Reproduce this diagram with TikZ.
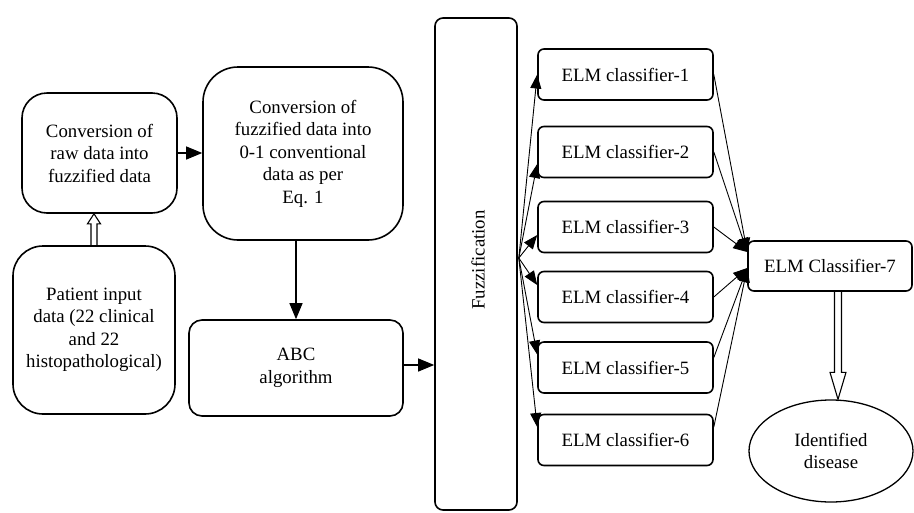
\documentclass[tikz,border=0pt]{standalone}
\usepackage{fontspec}
\setmainfont{Liberation Serif}
\usetikzlibrary{arrows.meta,calc,shapes.geometric}
\begin{document}
\begin{tikzpicture}[x=1pt,y=-1pt,
 box/.style={draw,line width=1.6pt,align=center,inner sep=0pt,font=\fontsize{18.8}{22.5}\selectfont},
 elm/.style={box,minimum width=175pt,minimum height=51pt,rounded corners=6pt},
 arr/.style={line width=1.1pt,-{Triangle[length=16pt,width=13pt]}},
 farr/.style={line width=0.9pt,-{Triangle[length=14pt,width=11pt]}},
 hollow/.style={line width=1.1pt,line join=miter}]
\useasboundingbox (0,0) rectangle (914,512);

\node[box,minimum width=155pt,minimum height=120pt,rounded corners=25pt] (a) at (99.5,153) {Conversion of\\raw data into\\fuzzified data};
\node[box,minimum width=200pt,minimum height=173pt,rounded corners=35pt] (b) at (303,153.5) {Conversion of\\fuzzified data into\\0-1 conventional\\data as per\\Eq. 1};
\node[box,minimum width=162pt,minimum height=168pt,rounded corners=30pt] (c) at (94,330) {Patient input\\data (22 clinical\\and 22\\histopathological)};
\node[box,minimum width=214pt,minimum height=96pt,rounded corners=13pt] (d) at (296,368) {ABC\\algorithm};
\node[box,minimum width=82pt,minimum height=492pt,rounded corners=8pt] (fz) at (476,264) {};
\node[rotate=90,inner sep=0pt,font=\fontsize{18.8}{22.5}\selectfont] (fzt) at (478,260) {Fuzzification};

\node[elm] (e1) at (625.5,74.5) {ELM classifier-1};
\node[elm] (e2) at (625.5,152) {ELM classifier-2};
\node[elm] (e3) at (625.5,227) {ELM classifier-3};
\node[elm] (e4) at (625.5,297) {ELM classifier-4};
\node[elm] (e5) at (625.5,367.5) {ELM classifier-5};
\node[elm] (e6) at (625.5,440) {ELM classifier-6};
\node[box,minimum width=164pt,minimum height=50pt,rounded corners=6pt] (e7) at (830,266) {ELM Classifier-7};
\node[box,line width=1.3pt,ellipse,minimum width=164pt,minimum height=102pt] (dis) at (831,451) {Identified\\disease};

% connectors
\draw[arr] (a.east) -- (a.east -| b.west);
\draw[arr] (d.north |- b.south) -- (d.north);
\draw[arr] ($(d.east)+(0,-3)$) -- ($(d.east -| fz.west)+(0,-3)$);

\coordinate (fo) at ($(fz.east)+(1,-6)$);
\draw[farr] (fo) -- (e1.west);
\draw[farr] (fo) -- ($(e2.west)+(0,12)$);
\draw[farr] (fo) -- ($(e3.west)+(0,8)$);
\draw[farr] (fo) -- ($(e4.west)+(0,-12)$);
\draw[farr] (fo) -- ($(e5.west)+(0,-13)$);
\draw[farr] (fo) -- ($(e6.west)+(0,-13)$);

\coordinate (ca) at ($(e7.west)+(0,-14)$);
\coordinate (cb) at ($(e7.west)+(0,2)$);
\draw[farr] (e1.east) -- (ca);
\draw[farr] (e2.east) -- (ca);
\draw[farr] (e3.east) -- (ca);
\draw[farr] (e4.east) -- (cb);
\draw[farr] ($(e5.east)+(0,-10)$) -- (cb);
\draw[farr] ($(e6.east)+(0,-13)$) -- (cb);

% hollow arrows
\draw[hollow] let \p1=(c.north), \p2=(a.south) in
  (\x1-3pt,\y1) -- (\x1-3pt,\y2-10pt) -- (\x1-6.5pt,\y2-10pt) -- (\x1,\y2)
  -- (\x1+6.5pt,\y2-10pt) -- (\x1+3pt,\y2-10pt) -- (\x1+3pt,\y1);
\draw[hollow] let \p1=($(e7.south)+(8,0)$), \p2=(dis.north) in
  (\x1-3.5pt,\y1) -- (\x1-3.5pt,\y2+27pt) -- (\x1-8pt,\y2+27pt) -- (\x1,\y2)
  -- (\x1+8pt,\y2+27pt) -- (\x1+3.5pt,\y2+27pt) -- (\x1+3.5pt,\y1);
\end{tikzpicture}
\end{document}
